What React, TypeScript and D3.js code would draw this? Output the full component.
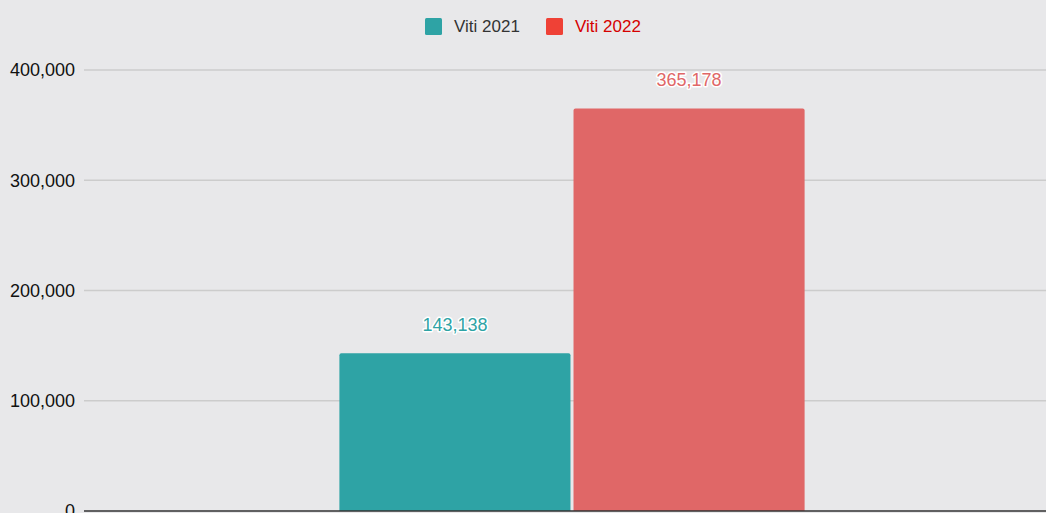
import React from "react";
import * as d3 from "d3";

const categories = [""];
const seriesNames = ["Viti 2021", "Viti 2022"];
const values2021 = [143138];
const values2022 = [365178];
const yTicks = [0, 100000, 200000, 300000, 400000];
const barColors = ["#2ea3a5", "#e06767"];
const legendSwatch = ["#2ea3a5", "#ef4136"];
const legendText = ["#333333", "#d50000"];

const W = 1046;
const H = 513;
const margin = { left: 84, right: -14, top: 70, bottom: 2 };
const FONT = "'Liberation Sans', Arial, sans-serif";

export default function App() {
  const x0 = d3
    .scaleBand<string>()
    .domain(categories)
    .range([margin.left, W - margin.right])
    .paddingInner(0)
    .paddingOuter(0.549);
  const x1 = d3
    .scaleBand<string>()
    .domain(seriesNames)
    .range([0, x0.bandwidth()])
    .paddingInner(0.013);
  const y = d3
    .scaleLinear()
    .domain([0, 400000])
    .range([H - margin.bottom, margin.top]);
  const fmt = d3.format(",");
  const series = [values2021, values2022];

  return (
    <svg
      width={W}
      height={H}
      style={{ position: "fixed", left: 0, top: 0, fontFamily: FONT }}
    >
      <rect x={0} y={0} width={W} height={H} fill="#e8e8ea" />
      {yTicks.map((t) => (
        <g key={t}>
          {t > 0 && (
            <line x1={margin.left} x2={W} y1={y(t)} y2={y(t)} stroke="#cccccc" strokeWidth={1.3} />
          )}
          <text x={75} y={y(t)} dy="0.35em" textAnchor="end" fontSize={18} fill="#111">
            {fmt(t)}
          </text>
        </g>
      ))}
      {categories.map((c, ci) =>
        seriesNames.map((s, si) => {
          const v = series[si][ci];
          const bx = (x0(c) ?? 0) + (x1(s) ?? 0);
          const bw = x1.bandwidth();
          const top = y(v);
          const bottom = y(0);
          const r = 2;
          const path = `M${bx},${bottom} V${top + r} Q${bx},${top} ${bx + r},${top} H${bx + bw - r} Q${bx + bw},${top} ${bx + bw},${top + r} V${bottom} Z`;
          return (
            <g key={s}>
              <path d={path} fill={barColors[si]} />
              <text
                x={bx + bw / 2}
                y={top - 22}
                textAnchor="middle"
                fontSize={18}
                fill={barColors[si]}
                stroke="#ffffff"
                strokeWidth={3}
                strokeLinejoin="round"
                style={{ paintOrder: "stroke" }}
              >
                {fmt(v)}
              </text>
            </g>
          );
        })
      )}
      <line x1={margin.left} x2={W} y1={y(0)} y2={y(0)} stroke="#333" strokeWidth={1.5} />
      {seriesNames.map((s, i) => {
        const lx = i === 0 ? 425 : 546;
        return (
          <g key={s}>
            <rect x={lx} y={18} width={17} height={17} rx={1.5} fill={legendSwatch[i]} />
            <text x={lx + 29} y={26.5} dy="0.35em" fontSize={17} fill={legendText[i]}>
              {s}
            </text>
          </g>
        );
      })}
    </svg>
  );
}
